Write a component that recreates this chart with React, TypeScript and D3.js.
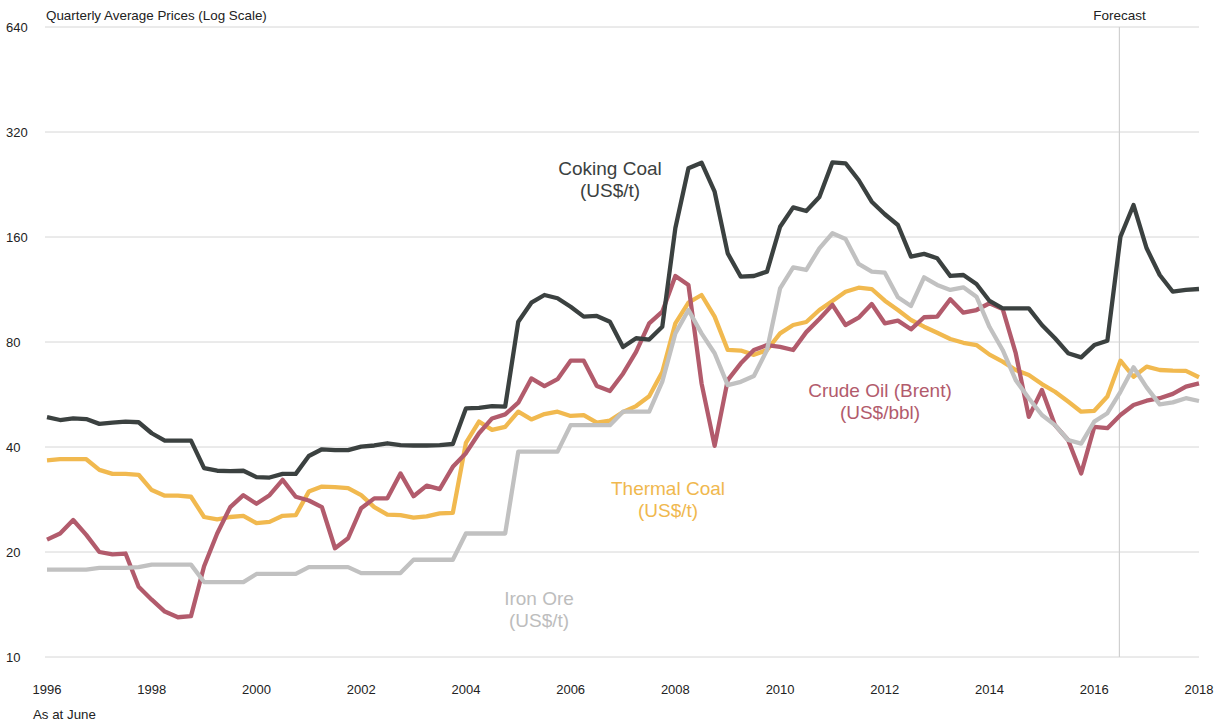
import React from 'react';
import * as d3 from 'd3';

// quarterly averages, first point = 1996 Q1 ... last = 2018 Q1
const startYear = 1996;
const cokingCoal = [48.7,47.8,48.3,48.1,46.6,47.0,47.3,47.1,43.8,41.7,41.7,41.7,34.8,34.2,34.1,34.2,32.8,32.7,33.5,33.5,37.7,39.4,39.2,39.2,40.1,40.4,41.0,40.5,40.4,40.4,40.5,40.8,51.6,51.8,52.4,52.2,91.5,103.7,109.1,106.8,101.0,94.6,95.0,91.5,77.4,82.0,81.3,88.5,169.8,251.8,261.3,215.8,143.6,123.1,123.7,127.3,171.2,194.6,190,208.4,262,260.3,233.1,202,185.9,173.2,140.5,143.1,139.1,123.7,124.5,117.3,104.9,99.9,99.9,99.9,89.5,82.0,74.3,72.3,78.4,80.7,160.3,197.6,148.5,124.5,111.5,112.8,113.5];
const thermalCoal = [36.6,36.9,36.9,36.9,34.4,33.5,33.5,33.3,30.1,29.0,29.0,28.8,25.2,24.8,25.2,25.4,24.2,24.4,25.4,25.5,29.8,30.8,30.7,30.5,29.1,26.9,25.6,25.5,25.1,25.3,25.8,25.9,41.1,47.3,44.8,45.7,50.5,48.0,49.7,50.5,49.1,49.4,47.0,47.6,50.4,52.4,55.9,65.6,90.5,103.7,109.1,94.6,75.9,75.6,73.5,75.9,84.7,89.5,91.3,98.8,104.9,111.5,114.5,113.5,105.1,98.8,92.5,88.5,85.0,81.6,79.6,78.4,73.6,70.3,66.5,64.3,60.6,57.6,54.0,50.5,50.8,55.8,70.7,63.6,68.0,66.5,66.2,66.1,63.4];
const crudeOil = [21.7,22.6,24.7,22.4,20.0,19.7,19.8,15.9,14.6,13.5,13.0,13.1,18.2,22.6,26.9,29.1,27.5,29.1,32.2,28.8,28.1,26.9,20.5,21.9,26.7,28.5,28.5,33.6,28.9,31.0,30.3,35.1,38.4,43.8,48.3,49.6,53.6,62.9,59.8,62.6,70.7,70.7,59.8,57.9,64.9,75.0,90.5,97.7,123.7,116.6,60.9,40.3,62.2,69.5,75.9,78.4,77.5,75.9,85.4,93.1,102.2,89.5,93.9,102.8,90.5,92.1,87.0,94.2,94.6,106.1,97.1,98.8,103.3,99.5,74.3,48.8,58.3,46.2,41.9,33.6,45.7,45.3,49.4,52.8,54.3,55.2,56.8,59.6,60.9];
const ironOre = [17.8,17.8,17.8,17.8,18.0,18.0,18.0,18.1,18.4,18.4,18.4,18.4,16.4,16.4,16.4,16.4,17.3,17.3,17.3,17.3,18.1,18.1,18.1,18.1,17.4,17.4,17.4,17.4,19.0,19.0,19.0,19.0,22.6,22.6,22.6,22.6,38.8,38.8,38.8,38.8,46.2,46.2,46.2,46.2,50.5,50.5,50.5,61.6,84.7,98.8,84.7,74.3,60.2,61.5,63.9,75.9,114.0,131.0,128.7,148.5,164.0,158.0,133.9,127.3,126.4,107.5,101.5,122.6,116.6,112.8,114.8,107.9,88.3,75.9,62.2,55.2,49.4,46.2,41.9,40.9,47.3,50.0,57.6,67.7,59.3,53.0,53.7,55.2,54.2];

const yTicks = [10, 20, 40, 80, 160, 320, 640];
const xTicks = [1996, 1998, 2000, 2002, 2004, 2006, 2008, 2010, 2012, 2014, 2016, 2018];
const forecastStart = 2016.48;

const font = '"Liberation Sans", Arial, sans-serif';

const series = [
  { name: 'thermal', values: thermalCoal, color: '#f1b94f', textColor: '#f0b84e', label: ['Thermal Coal', '(US$/t)'], lx: 668, ly: 495 },
  { name: 'crude', values: crudeOil, color: '#b25b6c', textColor: '#b25b6c', label: ['Crude Oil (Brent)', '(US$/bbl)'], lx: 880, ly: 397 },
  { name: 'iron', values: ironOre, color: '#c1c1c1', textColor: '#bdbdbd', label: ['Iron Ore', '(US$/t)'], lx: 539, ly: 605 },
  { name: 'coking', values: cokingCoal, color: '#3b4140', textColor: '#3b4140', label: ['Coking Coal', '(US$/t)'], lx: 610, ly: 175 },
];

export default function App() {
  const width = 1221;
  const height = 724;
  const left = 47, right = 1199, top = 27, bottom = 657;

  const x = d3.scaleLinear().domain([1996, 2018]).range([left, right]);
  const y = d3.scaleLog().domain([10, 640]).range([bottom, top]);

  const line = d3.line<number>()
    .x((_, i) => x(startYear + i / 4))
    .y(d => y(d));

  return (
    <svg width={width} height={height} style={{ position: 'absolute', left: 0, top: 0 }} fontFamily={font}>
      <rect width={width} height={height} fill="#fff" />
      {yTicks.map(t => (
        <g key={t}>
          <line x1={45} x2={right} y1={y(t)} y2={y(t)} stroke="#d6d6d6" strokeWidth={1} />
          <text x={6} y={y(t) + 4.8} fontSize={13} fill="#222">{t}</text>
        </g>
      ))}
      <line x1={x(forecastStart)} x2={x(forecastStart)} y1={top} y2={bottom} stroke="#d0d0d0" strokeWidth={1.2} />
      <text x={x(forecastStart)} y={20} fontSize={13.5} textAnchor="middle" fill="#222">Forecast</text>
      <text x={46} y={20} fontSize={13.4} fill="#222">Quarterly Average Prices (Log Scale)</text>
      {xTicks.map(t => (
        <text key={t} x={x(t)} y={693.5} fontSize={13} textAnchor="middle" fill="#222">{t}</text>
      ))}
      <text x={33} y={718.5} fontSize={13.3} fill="#222">As at June</text>
      {series.map(s => (
        <path key={s.name} d={line(s.values) || ''} fill="none" stroke={s.color} strokeWidth={4.3} strokeLinejoin="round" />
      ))}
      {series.map(s => (
        <text key={s.name + '-l'} x={s.lx} y={s.ly} fontSize={19} textAnchor="middle" fill={s.textColor}>
          <tspan x={s.lx} dy={0}>{s.label[0]}</tspan>
          <tspan x={s.lx} dy={21.5}>{s.label[1]}</tspan>
        </text>
      ))}
    </svg>
  );
}
